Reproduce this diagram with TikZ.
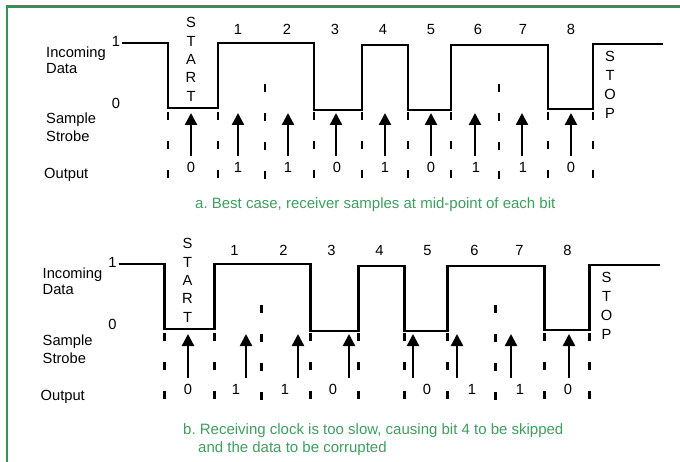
\documentclass[tikz,border=0pt]{standalone}
\usepackage{fontspec}
\setmainfont{Liberation Sans}
\usepackage{tikz}
\usetikzlibrary{arrows.meta}
\definecolor{framegreen}{RGB}{52,146,86}
\definecolor{captgreen}{RGB}{62,158,96}
\frenchspacing

\begin{document}
\begin{tikzpicture}[x=1pt,y=-1pt,
lbl/.style={inner sep=0pt,anchor=base,font=\fontsize{14.7}{17}\selectfont},
caption/.style={inner sep=0pt,anchor=base west,text=captgreen,font=\fontsize{15}{18}\selectfont},
wave/.style={line width=2.5pt,line join=miter},
tick/.style={line width=2.6pt,dash pattern=on 8pt off 21pt},
strobe/.style={line width=2.4pt,-{Triangle[width=12pt,length=12pt]}}]
\useasboundingbox (0,0) rectangle (680,462);
\draw[framegreen,line width=2.7pt] (7,462) -- (7,6.5) -- (680,6.5);
% the two timing diagrams
\foreach \p/\dx/\dy in {a/0/0,b/-3.5/221}{
\begin{scope}[shift={(\dx,\dy)}]
\node[lbl,anchor=base west] (inc-\p) at (46,58) {Incoming};
\node[lbl,anchor=base west] (dat-\p) at (46,74) {Data};
\node[lbl,anchor=base west] (smp-\p) at (46,124) {Sample};
\node[lbl,anchor=base west] (stb-\p) at (46,142) {Strobe};
\node[lbl,anchor=base west] (out-\p) at (44,179) {Output};
\node[lbl] (hi-\p) at (116,47) {1};
\node[lbl] (lo-\p) at (116,109) {0};
\draw[wave] (122,43) -| (168,108) -| (218,43) -| (314,110) -| (362,45)
 -| (408,110) -| (451,45) -| (548,109) -| (593,44) -- (663,44);
\foreach \x in {168,218,314,362,408,451,548,593}
 \draw[tick] (\x,112) -- (\x,179);
\foreach \x in {265,499}
 \draw[tick] (\x,84) -- (\x,179);
\foreach \x [count=\n] in {238,287,335,383,431,478,523,571}
 \node[lbl] (bit\n-\p) at (\x,35) {\n};
\foreach \c [count=\k] in {S,T,A,R,T}
 \node[lbl] (start\k-\p) at (191,{9.7+18.3*\k}) {\c};
\foreach \c [count=\k] in {S,T,O,P}
 \node[lbl] (stop\k-\p) at (610,{43+18.8*\k}) {\c};
\end{scope}
}
% a: sampled at mid-bit
\foreach \x in {191,238,288,336,385,431,475,522,571}
 \draw[strobe] (\x,156) -- (\x,113);
\foreach \x/\v [count=\k] in {191/0,238/1,288/1,337/0,385/1,431/0,476/1,523/1,571/0}
 \node[lbl] (o\k-a) at (\x,173) {\v};
\node[caption] (cap-a) at (195,209) {a. Best case, receiver samples at mid-point of each bit};
% b: slow clock
\foreach \x in {188,246,298,349,413,457,511,569}
 \draw[strobe] (\x,378) -- (\x,334);
\foreach \x/\v [count=\k] in {188/0,236/1,285/1,333/0,427/0,472/1,520/1,568/0}
 \node[lbl] (o\k-b) at (\x,394) {\v};
\node[caption] (cap-b) at (183,434) {b. Receiving clock is too slow, causing bit 4 to be skipped};
\node[caption] (cap-b2) at (198,452.5) {and the data to be corrupted};
\end{tikzpicture}
\end{document}
